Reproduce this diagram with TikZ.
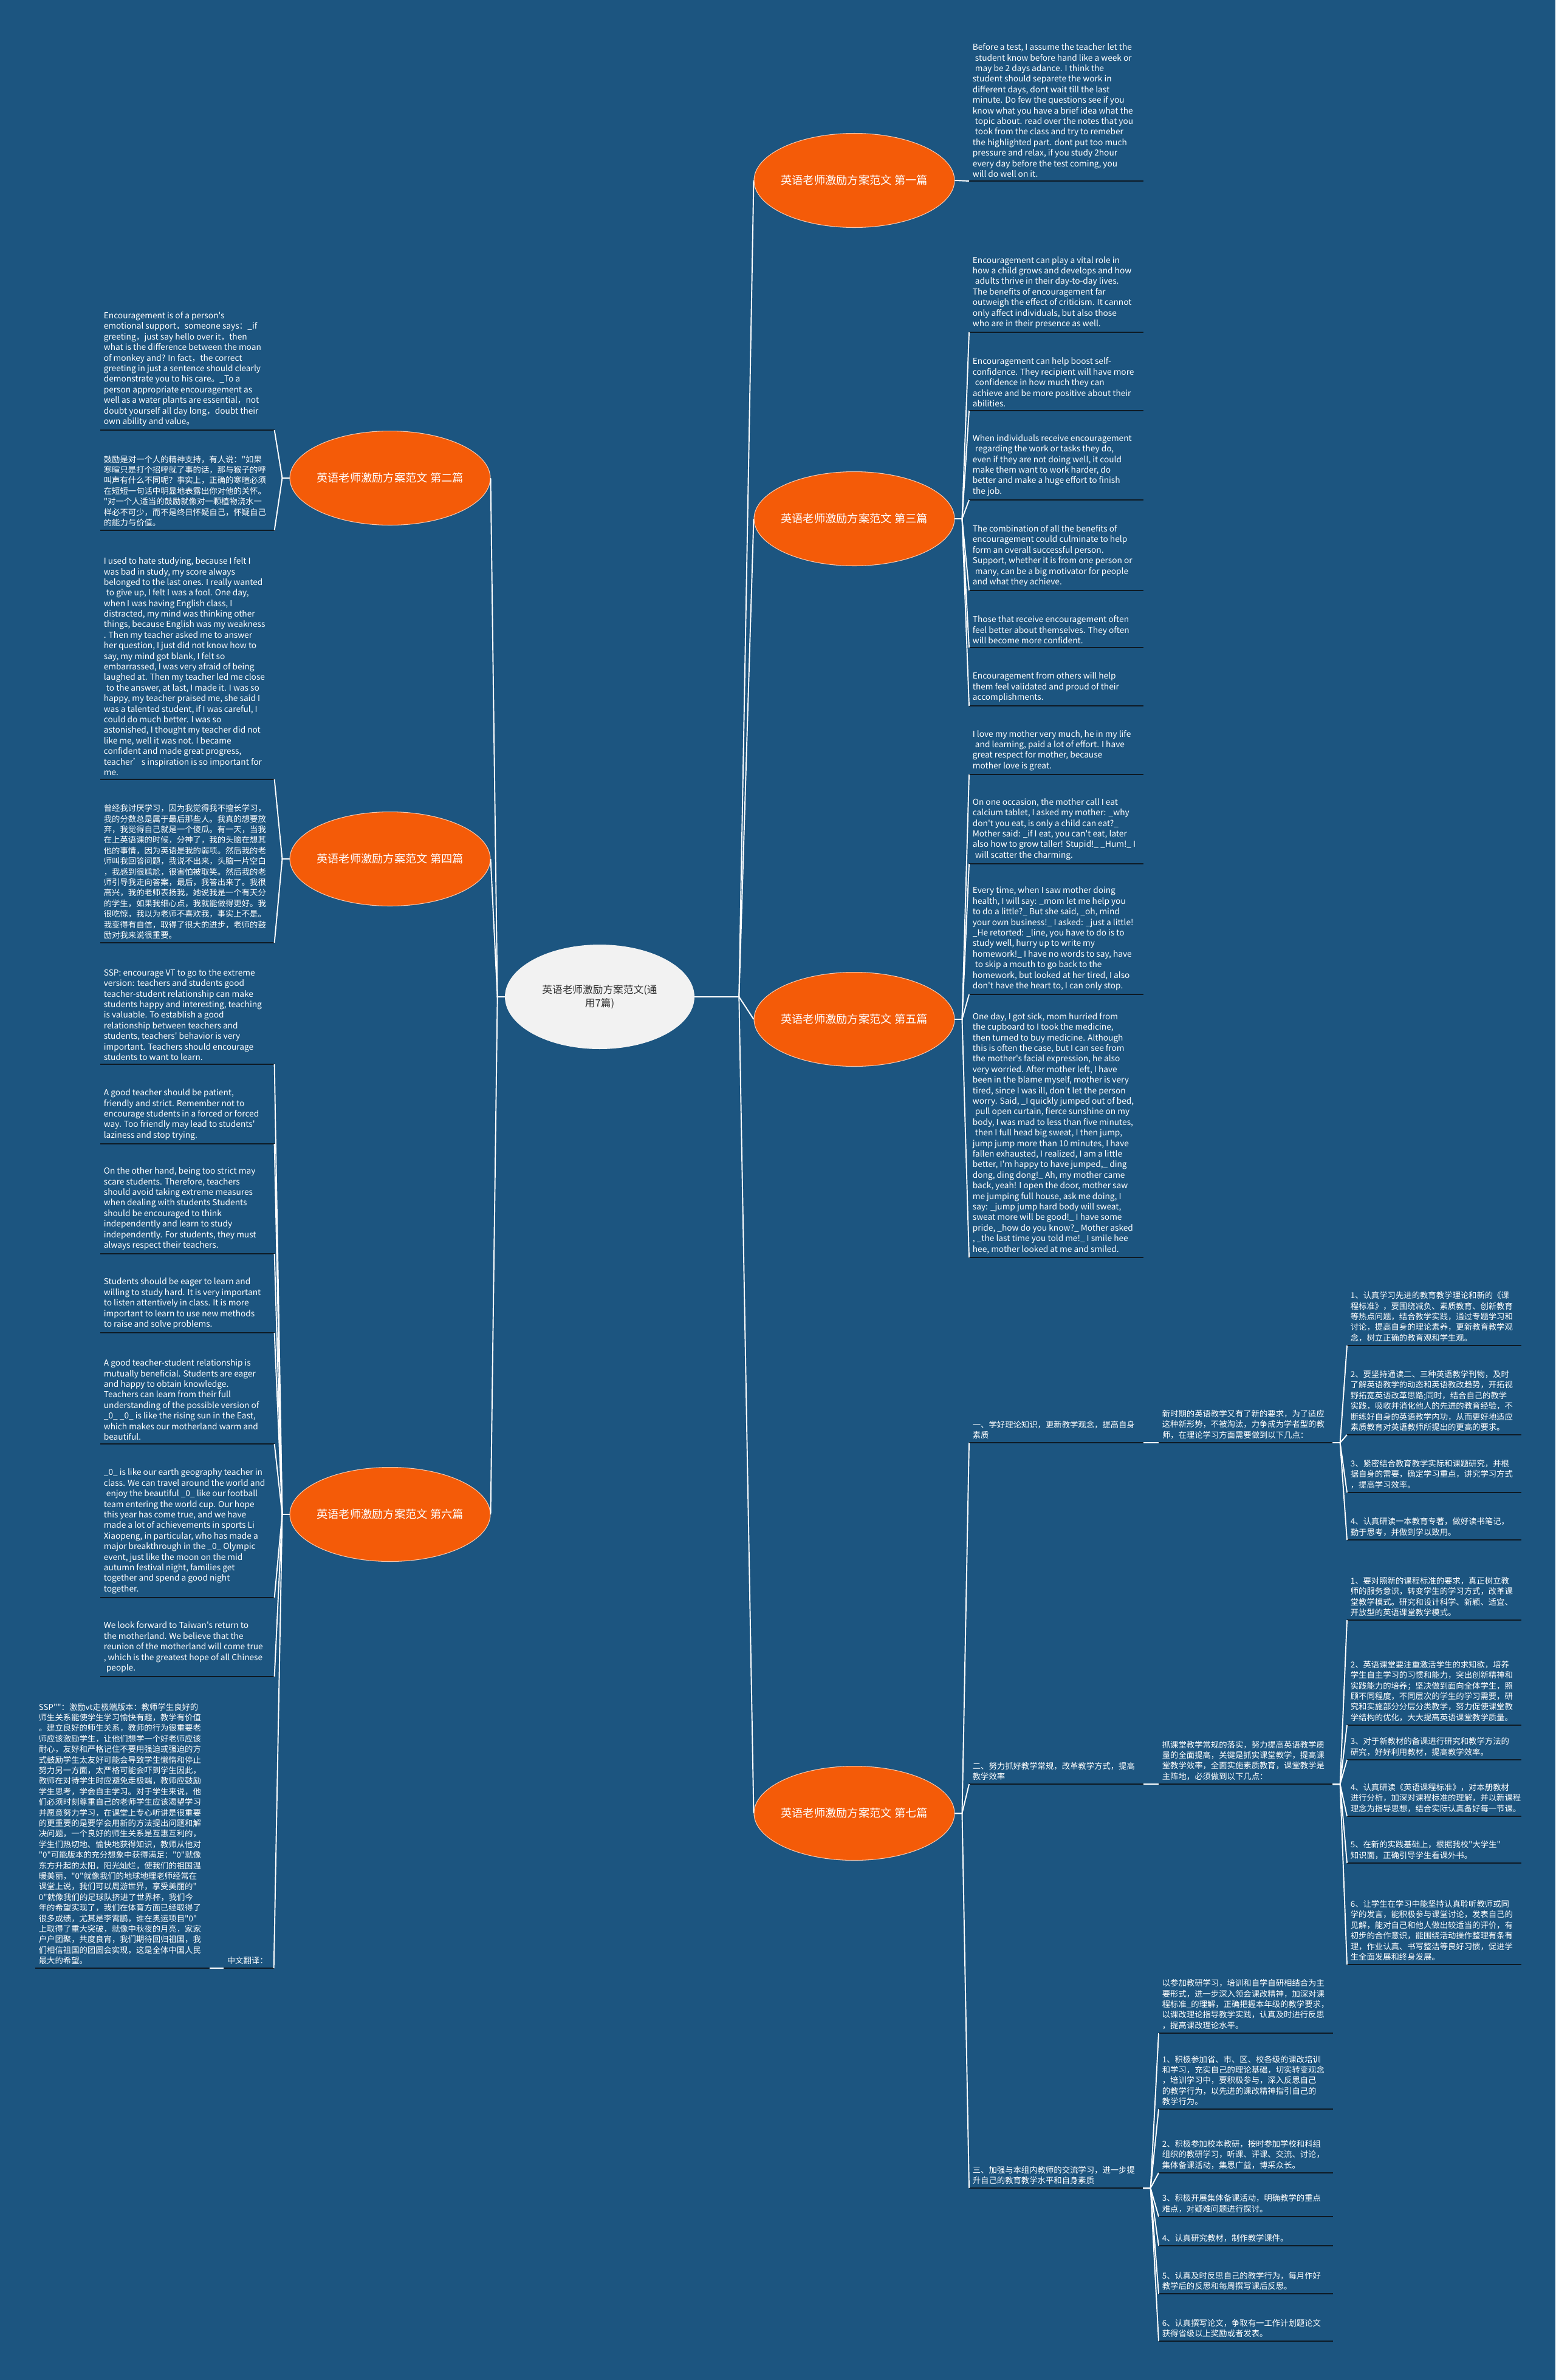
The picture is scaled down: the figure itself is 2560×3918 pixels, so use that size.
\documentclass[tikz,border=0pt]{standalone}
\usepackage{fontspec}
\setmainfont{Noto Sans CJK SC}[Ligatures=TeXOff]
\usetikzlibrary{shapes.geometric}
\definecolor{bgblue}{HTML}{1C5580}
\definecolor{topicorange}{HTML}{F45B08}
\definecolor{rootgrey}{HTML}{F2F2F2}
\definecolor{rootink}{HTML}{333333}
\definecolor{ulink}{HTML}{0E1A24}
\newcommand\lsp{\hspace*{.3em}}

\begin{document}
\begin{tikzpicture}[x=0.02cm, y=-0.02cm,
    root/.style={ellipse, fill=rootgrey, minimum width=6.24cm, minimum height=3.44cm,
      inner sep=0pt, align=center, text=rootink, font=\fontsize{9.5}{12.5}\selectfont},
    topic/.style={ellipse, fill=topicorange, draw=white!65!topicorange, line width=0.6pt,
      minimum width=6.6cm, minimum height=3.1cm, inner xsep=-0.3cm, inner ysep=0pt,
      text=white, font=\fontsize{10.4}{12}\selectfont},
    leaf/.style={anchor=south west, text width=5.5cm, inner xsep=0.11cm,
      inner ysep=0.12cm, align=flush left, text=white,
      font=\fontsize{7.8}{9.9}\selectfont},
    zh/.style={leaf, font=\fontsize{7.6}{9.9}\selectfont},
    ul/.style={draw=ulink, line width=1.4pt},
    link/.style={draw=white, line width=1.1pt},
  ]

    \fill[bgblue] (0,0) rectangle (2560,3918);
    \useasboundingbox (0,0) rectangle (2560,3918);

    % Root and topics
    \node[root] (root) at (987,1641) {英语老师激励方案范文(通\\用7篇)};
    \node[topic] (t1) at (1406,297)  {英语老师激励方案范文 第一篇};
    \node[topic] (t3) at (1406,854)  {英语老师激励方案范文 第三篇};
    \node[topic] (t5) at (1406,1678) {英语老师激励方案范文 第五篇};
    \node[topic] (t7) at (1406,2985) {英语老师激励方案范文 第七篇};
    \node[topic] (t2) at (642,787)   {英语老师激励方案范文 第二篇};
    \node[topic] (t4) at (642,1414)  {英语老师激励方案范文 第四篇};
    \node[topic] (t6) at (642,2493)  {英语老师激励方案范文 第六篇};

    \foreach \t in {t1,t3,t5,t7}
      \draw[link] (root.east) -- ++(73,0) -- (\t.west);
    \foreach \t in {t2,t4,t6}
      \draw[link] (root.west) -- ++(-12,0) -- (\t.east);

    % First
    \node[leaf] (a1) at (1595,298) {Before a test, I assume the teacher let the\\
      \lsp student know before hand like a week or\\ \lsp may be 2 days adance. I think the\\
      student should separete the work in\\ different days, dont wait till the last\\
      minute. Do few the questions see if you\\ know what you have a brief idea what the\\
      \lsp topic about. read over the notes that you\\ \lsp took from the class and try to remeber\\
      the highlighted part. dont put too much\\ pressure and relax, if you study 2hour\\
      every day before the test coming, you\\ will do well on it.};

    % Third
    \node[leaf] (c1) at (1595,547) {Encouragement can play a vital role in\\
      how a child grows and develops and how\\ \lsp adults thrive in their day-to-day lives.\\
      The benefits of encouragement far\\ outweigh the effect of criticism. It cannot\\
      only affect individuals, but also those\\ who are in their presence as well.};
    \node[leaf] (c2) at (1595,676) {Encouragement can help boost self-\\
      confidence. They recipient will have more\\ \lsp confidence in how much they can\\
      achieve and be more positive about their\\ abilities.};
    \node[leaf] (c3) at (1595,823) {When individuals receive encouragement\\
      \lsp regarding the work or tasks they do,\\ even if they are not doing well, it could\\
      make them want to work harder, do\\ better and make a huge effort to finish\\ the job.};
    \node[leaf] (c4) at (1595,972) {The combination of all the benefits of\\
      encouragement could culminate to help\\ form an overall successful person.\\
      Support, whether it is from one person or\\ \lsp many, can be a big motivator for people\\
      and what they achieve.};
    \node[leaf] (c5) at (1595,1066) {Those that receive encouragement often\\
      feel better about themselves. They often\\ will become more confident.};
    \node[leaf] (c6) at (1595,1162) {Encouragement from others will help\\
      them feel validated and proud of their\\ accomplishments.};

    % Fifth
    \node[leaf] (e1) at (1595,1275) {I love my mother very much, he in my life\\
      \lsp and learning, paid a lot of effort. I have\\ great respect for mother, because\\
      mother love is great.};
    \node[leaf] (e2) at (1595,1422) {On one occasion, the mother call I eat\\
      calcium tablet, I asked my mother: \_why\\ don't you eat, is only a child can eat?\_\\
      Mother said: \_if I eat, you can't eat, later\\
      \mbox{also how to grow taller! Stupid!\_ \_Hum!\_ I}\\
      \lsp will scatter the charming.};
    \node[leaf] (e3) at (1595,1637) {Every time, when I saw mother doing\\
      health, I will say: \_mom let me help you\\ to do a little?\_ But she said, \_oh, mind\\
      your own business!\_ I asked: \_just a little!\\ \_He retorted: \_line, you have to do is to\\
      study well, hurry up to write my\\ homework!\_ I have no words to say, have\\
      \lsp to skip a mouth to go back to the\\ homework, but looked at her tired, I also\\
      don't have the heart to, I can only stop.};
    \node[leaf] (e4) at (1595,2070) {One day, I got sick, mom hurried from\\
      the cupboard to I took the medicine,\\ then turned to buy medicine. Although\\
      this is often the case, but I can see from\\ the mother's facial expression, he also\\
      very worried. After mother left, I have\\ been in the blame myself, mother is very\\
      tired, since I was ill, don't let the person\\ worry. Said, \_I quickly jumped out of bed,\\
      \lsp pull open curtain, fierce sunshine on my\\ body, I was mad to less than five minutes,\\
      \lsp then I full head big sweat, I then jump,\\ jump jump more than 10 minutes, I have\\
      fallen exhausted, I realized, I am a little\\ better, I'm happy to have jumped,\_ ding\\
      dong, ding dong!\_ Ah, my mother came\\ back, yeah! I open the door, mother saw\\
      me jumping full house, ask me doing, I\\ say: \_jump jump hard body will sweat,\\
      sweat more will be good!\_ I have some\\ pride, \_how do you know?\_ Mother asked\\
      , \_the last time you told me!\_ I smile hee\\ hee, mother looked at me and smiled.};

    % Second
    \node[leaf] (b1) at (165,708) {Encouragement is of a person's\\
      emotional support，someone says：\_if\\ greeting，just say hello over it，then\\
      what is the difference between the moan\\ of monkey and? In fact，the correct\\
      greeting in just a sentence should clearly\\ demonstrate you to his care。\_To a\\
      person appropriate encouragement as\\ well as a water plants are essential，not\\
      doubt yourself all day long，doubt their\\ own ability and value。};
    \node[zh] (b2) at (165,873) {鼓励是对一个人的精神支持，有人说："如果\\
      寒暄只是打个招呼就了事的话，那与猴子的呼\\ 叫声有什么不同呢？事实上，正确的寒暄必须\\
      在短短一句话中明显地表露出你对他的关怀。\\ "对一个人适当的鼓励就像对一颗植物浇水一\\
      样必不可少，而不是终日怀疑自己，怀疑自己\\ 的能力与价值。};

    % Fourth
    \node[leaf] (d1) at (165,1283) {I used to hate studying, because I felt I\\
      was bad in study, my score always\\ belonged to the last ones. I really wanted\\
      \lsp to give up, I felt I was a fool. One day,\\ when I was having English class, I\\
      distracted, my mind was thinking other\\ things, because English was my weakness\\
      . Then my teacher asked me to answer\\ her question, I just did not know how to\\
      say, my mind got blank, I felt so\\ embarrassed, I was very afraid of being\\
      laughed at. Then my teacher led me close\\ \lsp to the answer, at last, I made it. I was so\\
      happy, my teacher praised me, she said I\\ was a talented student, if I was careful, I\\
      could do much better. I was so\\ astonished, I thought my teacher did not\\
      like me, well it was not. I became\\ confident and made great progress,\\
      teacher’s inspiration is so important for\\ me.};
    \node[zh] (d2) at (165,1552) {曾经我讨厌学习，因为我觉得我不擅长学习，\\
      我的分数总是属于最后那些人。我真的想要放\\ 弃，我觉得自己就是一个傻瓜。有一天，当我\\
      在上英语课的时候，分神了，我的头脑在想其\\ 他的事情，因为英语是我的弱项。然后我的老\\
      师叫我回答问题，我说不出来，头脑一片空白\\ ，我感到很尴尬，很害怕被取笑。然后我的老\\
      师引导我走向答案，最后，我答出来了。我很\\ 高兴，我的老师表扬我，她说我是一个有天分\\
      的学生，如果我细心点，我就能做得更好。我\\ 很吃惊，我以为老师不喜欢我，事实上不是。\\
      我变得有自信，取得了很大的进步，老师的鼓\\ 励对我来说很重要。};

    % Sixth
    \node[leaf] (f1) at (165,1752) {SSP: encourage VT to go to the extreme\\
      version: teachers and students good\\ teacher-student relationship can make\\
      students happy and interesting, teaching\\ is valuable. To establish a good\\
      relationship between teachers and\\ students, teachers' behavior is very\\
      important. Teachers should encourage\\ students to want to learn.};
    \node[leaf] (f2) at (165,1883) {A good teacher should be patient,\\
      friendly and strict. Remember not to\\ encourage students in a forced or forced\\
      way. Too friendly may lead to students'\\ laziness and stop trying.};
    \node[leaf] (f3) at (165,2064) {On the other hand, being too strict may\\
      scare students. Therefore, teachers\\ should avoid taking extreme measures\\
      when dealing with students Students\\ should be encouraged to think\\
      independently and learn to study\\ independently. For students, they must\\
      always respect their teachers.};
    \node[leaf] (f4) at (165,2194) {Students should be eager to learn and\\
      willing to study hard. It is very important\\ to listen attentively in class. It is more\\
      important to learn to use new methods\\ to raise and solve problems.};
    \node[leaf] (f5) at (165,2377) {A good teacher-student relationship is\\
      mutually beneficial. Students are eager\\ and happy to obtain knowledge.\\
      Teachers can learn from their full\\ understanding of the possible version of\\
      \_0\_ \_0\_ is like the rising sun in the East,\\ which makes our motherland warm and\\
      beautiful.};
    \node[leaf] (f6) at (165,2630) {\_0\_ is like our earth geography teacher in\\
      class. We can travel around the world and\\ \lsp enjoy the beautiful \_0\_ like our football\\
      team entering the world cup. Our hope\\ this year has come true, and we have\\
      made a lot of achievements in sports Li\\ Xiaopeng, in particular, who has made a\\
      major breakthrough in the \_0\_ Olympic\\ event, just like the moon on the mid\\
      autumn festival night, families get\\ together and spend a good night\\ together.};
    \node[leaf] (f7) at (165,2760) {We look forward to Taiwan's return to\\
      the motherland. We believe that the\\ reunion of the motherland will come true\\
      , which is the greatest hope of all Chinese\\ \lsp people.};
    \node[zh, text width=1.42cm] (f8) at (368,3240) {中文翻译：};
    \node[zh] (f9) at (58,3240) {SSP""：激励vt走极端版本：教师学生良好的\\
      师生关系能使学生学习愉快有趣，教学有价值\\ 。建立良好的师生关系，教师的行为很重要老\\
      师应该激励学生，让他们想学一个好老师应该\\ 耐心，友好和严格记住不要用强迫或强迫的方\\
      式鼓励学生太友好可能会导致学生懒惰和停止\\ 努力另一方面，太严格可能会吓到学生因此，\\
      教师在对待学生时应避免走极端，教师应鼓励\\ 学生思考，学会自主学习。对于学生来说，他\\
      们必须时刻尊重自己的老师学生应该渴望学习\\ 并愿意努力学习，在课堂上专心听讲是很重要\\
      的更重要的是要学会用新的方法提出问题和解\\ 决问题，一个良好的师生关系是互惠互利的，\\
      学生们热切地、愉快地获得知识，教师从他对\\ "0"可能版本的充分想象中获得满足："0"就像\\
      东方升起的太阳，阳光灿烂，使我们的祖国温\\ 暖美丽，"0"就像我们的地球地理老师经常在\\
      课堂上说，我们可以周游世界，享受美丽的"\\ 0"就像我们的足球队挤进了世界杯，我们今\\
      年的希望实现了，我们在体育方面已经取得了\\ 很多成绩，尤其是李霄鹏，谁在奥运项目"0"\\
      上取得了重大突破，就像中秋夜的月亮，家家\\ 户户团聚，共度良宵，我们期待回归祖国，我\\
      们相信祖国的团圆会实现，这是全体中国人民\\ 最大的希望。};

    % Seventh: sections
    \node[zh] (s1) at (1595,2375) {一、学好理论知识，更新教学观念，提高自身\\ 素质};
    \node[zh] (s2) at (1595,2937) {二、努力抓好教学常规，改革教学方式，提高\\ 教学效率};
    \node[zh] (s3) at (1595,3602) {三、加强与本组内教师的交流学习，进一步提\\ 升自己的教育教学水平和自身素质};
    \node[zh] (m1) at (1907,2375) {新时期的英语教学又有了新的要求，为了适应\\
      这种新形势，不被淘汰，力争成为学者型的教\\ 师，在理论学习方面需要做到以下几点：};
    \node[zh] (m2) at (1907,2937) {抓课堂教学常规的落实，努力提高英语教学质\\
      量的全面提高，关键是抓实课堂教学，提高课\\ 堂教学效率，全面实施素质教育，课堂教学是\\
      主阵地，必须做到以下几点：};

    \node[zh] (p1) at (2217,2215) {1、认真学习先进的教育教学理论和新的《课\\
      程标准》，要围绕减负、素质教育、创新教育\\ 等热点问题，结合教学实践，通过专题学习和\\
      讨论，提高自身的理论素养，更新教育教学观\\ 念，树立正确的教育观和学生观。};
    \node[zh] (p2) at (2217,2362) {2、要坚持通读二、三种英语教学刊物，及时\\
      了解英语教学的动态和英语教改趋势，开拓视\\ 野拓宽英语改革思路;同时，结合自己的教学\\
      实践，吸收并消化他人的先进的教育经验，不\\ 断练好自身的英语教学内功，从而更好地适应\\
      素质教育对英语教师所提出的更高的要求。};
    \node[zh] (p3) at (2217,2457) {3、紧密结合教育教学实际和课题研究，并根\\
      据自身的需要，确定学习重点，讲究学习方式\\ ，提高学习效率。};
    \node[zh] (p4) at (2217,2535) {4、认真研读一本教育专著，做好读书笔记，\\ 勤于思考，并做到学以致用。};

    \node[zh] (q1) at (2217,2667) {1、要对照新的课程标准的要求，真正树立教\\
      师的服务意识，转变学生的学习方式，改革课\\ 堂教学模式。研究和设计科学、新颖、适宜、\\
      开放型的英语课堂教学模式。};
    \node[zh] (q2) at (2217,2840) {2、英语课堂要注重激活学生的求知欲，培养\\
      学生自主学习的习惯和能力，突出创新精神和\\ 实践能力的培养；坚决做到面向全体学生，照\\
      顾不同程度，不同层次的学生的学习需要，研\\ 究和实施部分分层分类教学，努力促使课堂教\\
      学结构的优化，大大提高英语课堂教学质量。};
    \node[zh] (q3) at (2217,2897) {3、对于新教材的备课进行研究和教学方法的\\ 研究，好好利用教材，提高教学效率。};
    \node[zh] (q4) at (2217,2990) {4、认真研读《英语课程标准》，对本册教材\\
      进行分析，加深对课程标准的理解，并以新课程\\ 理念为指导思想，结合实际认真备好每一节课。};
    \node[zh] (q5) at (2217,3067) {5、在新的实践基础上，根据我校"大学生"\\ 知识面，正确引导学生看课外书。};
    \node[zh] (q6) at (2217,3234) {6、让学生在学习中能坚持认真聆听教师或同\\
      学的发言，能积极参与课堂讨论，发表自己的\\ 见解，能对自己和他人做出较适当的评价，有\\
      初步的合作意识，能围绕活动操作整理有条有\\ 理，作业认真、书写整洁等良好习惯，促进学\\
      生全面发展和终身发展。};

    \node[zh] (r0) at (1907,3347) {以参加教研学习，培训和自学自研相结合为主\\
      要形式，进一步深入领会课改精神，加深对课\\ 程标准\_的理解，正确把握本年级的教学要求，\\
      以课改理论指导教学实践，认真及时进行反思\\ ，提高课改理论水平。};
    \node[zh] (r1) at (1907,3472) {1、积极参加省、市、区、校各级的课改培训\\
      和学习，充实自己的理论基础，切实转变观念\\ ，培训学习中，要积极参与，深入反思自己\\
      的教学行为，以先进的课改精神指引自己的\\ 教学行为。};
    \node[zh] (r2) at (1907,3577) {2、积极参加校本教研，按时参加学校和科组\\
      组织的教研学习，听课、评课、交流、讨论，\\ 集体备课活动，集思广益，博采众长。};
    \node[zh] (r3) at (1907,3649) {3、积极开展集体备课活动，明确教学的重点\\ 难点，对疑难问题进行探讨。};
    \node[zh] (r4) at (1907,3697) {4、认真研究教材，制作教学课件。};
    \node[zh] (r5) at (1907,3776) {5、认真及时反思自己的教学行为，每月作好\\ 教学后的反思和每周撰写课后反思。};
    \node[zh] (r6) at (1907,3854) {6、认真撰写论文，争取有一工作计划题论文\\ 获得省级以上奖励或者发表。};

    % Underlines
    \foreach \n in {a1,c1,c2,c3,c4,c5,c6,e1,e2,e3,e4,b1,b2,d1,d2,f1,f2,f3,f4,f5,f6,f7,f8,f9,
        s1,s2,s3,m1,m2,p1,p2,p3,p4,q1,q2,q3,q4,q5,q6,r0,r1,r2,r3,r4,r5,r6}
      \draw[ul] (\n.south west) -- (\n.south east);

    % Connectors
    \draw[link] (t1.east) -- (a1.south west);
    \foreach \n in {c1,c2,c3,c4,c5,c6}
      \draw[link] (t3.east) -- ++(12,0) -- (\n.south west);
    \foreach \n in {e1,e2,e3,e4}
      \draw[link] (t5.east) -- ++(12,0) -- (\n.south west);
    \foreach \n in {b1,b2}
      \draw[link] (t2.west) -- ++(-12,0) -- (\n.south east);
    \foreach \n in {d1,d2}
      \draw[link] (t4.west) -- ++(-12,0) -- (\n.south east);
    \foreach \n in {f1,f2,f3,f4,f5,f6,f7,f8}
      \draw[link] (t6.west) -- ++(-12,0) -- (\n.south east);
    \draw[link] (f8.south west) -- (f9.south east);
    \foreach \n in {s1,s2,s3}
      \draw[link] (t7.east) -- ++(12,0) -- (\n.south west);
    \draw[link] (s1.south east) -- (m1.south west);
    \draw[link] (s2.south east) -- (m2.south west);
    \foreach \n in {p1,p2,p3,p4}
      \draw[link] (m1.south east) -- ++(12,0) -- (\n.south west);
    \foreach \n in {q1,q2,q3,q4,q5,q6}
      \draw[link] (m2.south east) -- ++(12,0) -- (\n.south west);
    \foreach \n in {r0,r1,r2,r3,r4,r5,r6}
      \draw[link] (s3.south east) -- ++(12,0) -- (\n.south west);

  \end{tikzpicture}
\end{document}
